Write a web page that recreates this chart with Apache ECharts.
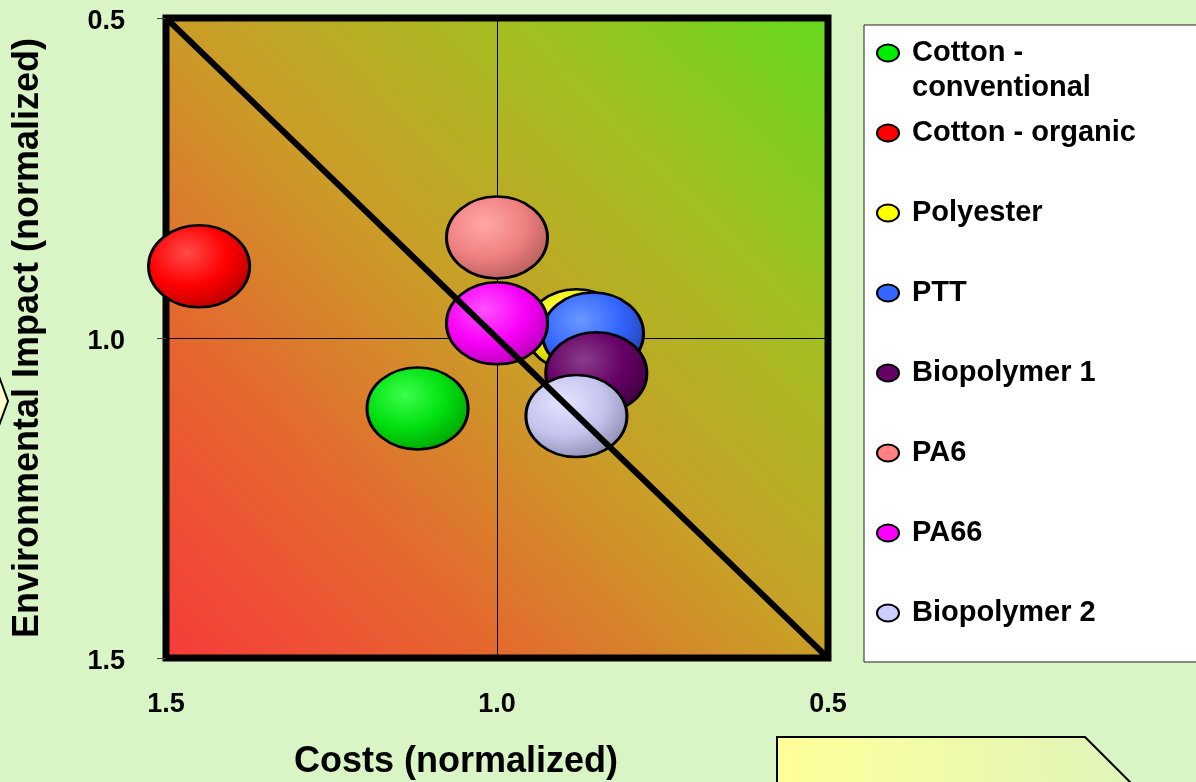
<!DOCTYPE html>
<html>
<head>
<meta charset="utf-8">
<script src="https://cdn.jsdelivr.net/npm/echarts@6/dist/echarts.min.js"></script>
<style>
  html, body { margin: 0; padding: 0; background: #d9f4c5; }
  #chart { width: 1196px; height: 782px; }
</style>
</head>
<body>
<div id="chart"></div>
<script>
// Materials plotted: normalized costs (x) against normalized environmental impact (y)
const materials = ['Cotton - conventional', 'Cotton - organic', 'Polyester', 'PTT',
                   'Biopolymer 1', 'PA6', 'PA66', 'Biopolymer 2'];
const costs   = [1.12, 1.45, 0.88, 0.855, 0.85, 1.0, 1.0, 0.88];
const impacts = [1.11, 0.888, 0.988, 0.993, 1.055, 0.843, 0.977, 1.122];

// Flat legend colours and [highlight, body, rim] shades for the bubbles
const flatColors = ['#00ee00', '#ff0000', '#ffff00', '#3366ff', '#660066', '#ff8080', '#ff00ff', '#ccccff'];
const shades = [
  ['#3cff4c', '#00e010', '#009400'],
  ['#ff4a4a', '#ff0000', '#a80000'],
  ['#ffff66', '#f0f000', '#aaaa00'],
  ['#6a98ff', '#3366ff', '#1c3a9c'],
  ['#8a3c8a', '#660066', '#360036'],
  ['#ffa8a8', '#f08080', '#a85656'],
  ['#ff50ff', '#f800f8', '#a800a8'],
  ['#e4e4ff', '#c4c4ee', '#8080a2']
];

// Axis ticks (both axes run from 1.5 to 0.5 / 0.5 to 1.5)
const axisMin = 0.5, axisMax = 1.5, axisStep = 0.5;
// Reference diagonal from (1.5, 0.5) to (0.5, 1.5)
const diagonal = [[1.5, 0.5], [0.5, 1.5]];

const FONT = '"Liberation Sans", Arial, sans-serif';
// Elliptical legend marker, 22 x 17
const ELLIPSE_ICON = 'path://M0,8.5 A11,8.5 0 1 0 22,8.5 A11,8.5 0 1 0 0,8.5 Z';

const bubbleSeries = materials.map((name, i) => ({
  name: name,
  type: 'scatter',
  z: 2 + i,
  symbol: 'circle',
  symbolSize: [101, 82],
  data: [[costs[i], impacts[i]]],
  itemStyle: {
    opacity: 1,
    color: new echarts.graphic.RadialGradient(0.38, 0.34, 0.78, [
      { offset: 0, color: shades[i][0] },
      { offset: 0.5, color: shades[i][1] },
      { offset: 1, color: shades[i][2] }
    ]),
    borderColor: '#000',
    borderWidth: 2.8
  },
  emphasis: { disabled: true }
}));

const chart = echarts.init(document.getElementById('chart'));
chart.setOption({
  animation: false,
  backgroundColor: '#d9f4c5',
  grid: {
    left: 166, top: 18, right: 368, bottom: 124,
    outerBoundsMode: 'none',
    containLabel: false,
    show: true,
    borderColor: '#000',
    borderWidth: 7,
    backgroundColor: new echarts.graphic.LinearGradient(0, 1, 1, 0, [
      { offset: 0, color: '#f73b3a' },
      { offset: 0.25, color: '#e6652f' },
      { offset: 0.5, color: '#c99e27' },
      { offset: 0.75, color: '#a3bf21' },
      { offset: 1, color: '#63d91c' }
    ])
  },
  xAxis: {
    type: 'value',
    inverse: true,
    min: axisMin, max: axisMax, interval: axisStep,
    name: 'Costs (normalized)',
    nameLocation: 'middle',
    nameGap: 86,
    nameTextStyle: { fontFamily: FONT, fontWeight: 'bold', fontSize: 36, color: '#000', padding: [0, 82, 0, 0] },
    axisLine: { show: false },
    axisTick: { show: false },
    axisLabel: {
      margin: 33,
      fontFamily: FONT, fontWeight: 'bold', fontSize: 27, color: '#000',
      formatter: v => v.toFixed(1)
    },
    splitLine: { show: true, lineStyle: { color: '#000', width: 1 } }
  },
  yAxis: {
    type: 'value',
    inverse: true,
    min: axisMin, max: axisMax, interval: axisStep,
    name: 'Environmental Impact (normalized)',
    nameLocation: 'middle',
    nameGap: 120,
    nameTextStyle: { fontFamily: FONT, fontWeight: 'bold', fontSize: 36, color: '#000' },
    axisLine: { show: false },
    axisTick: { show: true, inside: false, length: 9, lineStyle: { color: '#444', width: 1 } },
    axisLabel: {
      margin: 41,
      fontFamily: FONT, fontWeight: 'bold', fontSize: 27, color: '#000',
      padding: [0, 0, 0, 0],
      lineHeight: 40,
      verticalAlign: 'middle',
      formatter: v => '{v|' + v.toFixed(1) + '}',
      rich: { v: { fontFamily: FONT, fontWeight: 'bold', fontSize: 27, color: '#000', padding: [8, 0, 0, 0] } }
    },
    splitLine: { show: true, lineStyle: { color: '#000', width: 1 } }
  },
  legend: {
    orient: 'vertical',
    left: 864, top: 25,
    padding: [10, 100, 31, 12],
    backgroundColor: '#ffffff',
    borderColor: '#222',
    borderWidth: 1,
    itemWidth: 22,
    itemHeight: 17,
    itemGap: 44,
    icon: ELLIPSE_ICON,
    selectedMode: false,
    itemStyle: { borderColor: '#000', borderWidth: 2 },
    textStyle: {
      fontFamily: FONT, fontWeight: 'bold', fontSize: 29, color: '#000',
      lineHeight: 36, padding: [0, 0, 0, 8]
    },
    formatter: name => name === 'Cotton - conventional' ? 'Cotton -' : name,
    data: materials.map((name, i) => ({ name: name, itemStyle: { color: flatColors[i] } }))
  },
  graphic: [
    {
      type: 'text', x: 912, y: 88, z: 100,
      style: { text: 'conventional', font: 'bold 29px ' + FONT, fill: '#000', verticalAlign: 'middle' }
    },
    {
      type: 'polygon', z: 100,
      shape: { points: [[777, 737], [1085, 737], [1135, 787], [777, 787]] },
      style: {
        fill: new echarts.graphic.LinearGradient(0, 0, 1, 0, [
          { offset: 0, color: '#ffff99' },
          { offset: 1, color: '#dff5bb' }
        ]),
        stroke: '#000', lineWidth: 2
      }
    },
    {
      type: 'polygon', z: 100,
      shape: { points: [[-30, 371], [-3, 371], [8, 401], [-3, 431], [-30, 431]] },
      style: { fill: '#ffffcc', stroke: '#000', lineWidth: 2 }
    }
  ],
  series: bubbleSeries.concat([{
    name: 'diagonal',
    type: 'line',
    z: 20,
    symbol: 'none',
    data: diagonal,
    lineStyle: { color: '#000', width: 6 },
    silent: true
  }])
});
</script>
</body>
</html>
